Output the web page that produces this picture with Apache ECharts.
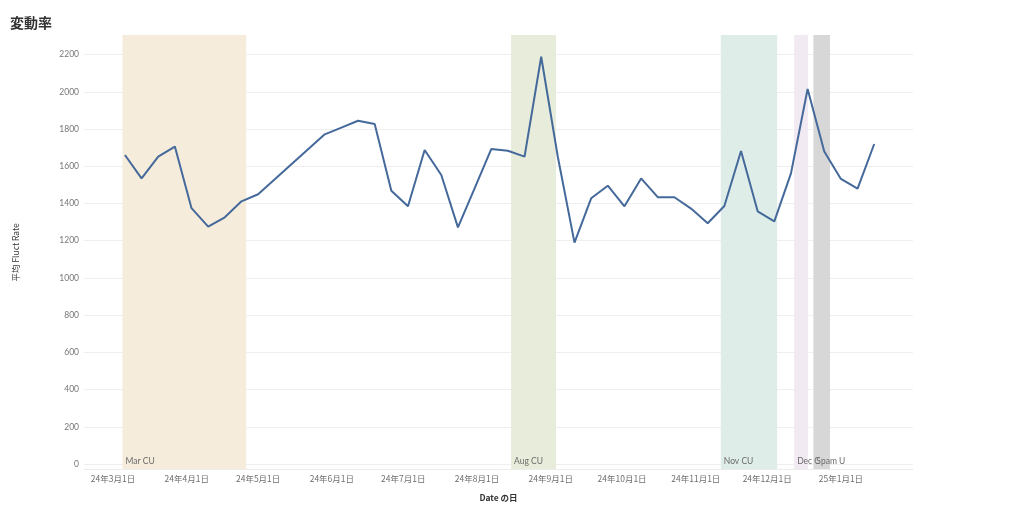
<!DOCTYPE html>
<html><head><meta charset="utf-8">
<script src="https://cdn.jsdelivr.net/npm/echarts@6/dist/echarts.min.js"></script>
<style>html,body{margin:0;padding:0;background:#fff}#c{width:1024px;height:512px}</style>
</head><body><div id="c"></div>
<script>
// ---- data ----
const firstWeek = '2024-03-06';
const fluctRate = [1661,1535,1652,1706,1375,1276,1326,1412,1450,1530,1611,1692,1772,1808,1845,1827,
  1469,1385,1688,1553,1272,1482,1693,1684,1652,2189,1650,1190,1428,1496,1385,1535,1434,1434,1373,1294,
  1387,1682,1358,1304,1562,2016,1680,1532,1480,1720];
const bandNames = ['Mar CU','Aug CU','Nov CU','Dec CU','Spam U'];
const bandStart = ['2024-03-05','2024-08-15T08:00','2024-11-11T12:00','2024-12-12T08:00','2024-12-20T10:00'];
const bandEnd   = ['2024-04-26','2024-09-03T05:00','2024-12-05T05:00','2024-12-18T03:00','2024-12-27T10:00'];
const bandColors = ['#f5ecdc','#e7edda','#deede8','#f1eaf2','#d7d7d7'];
const yTicks = [0,200,400,600,800,1000,1200,1400,1600,1800,2000,2200];

// ---- build ----
const DAY = 86400000;
const t0 = new Date(firstWeek + 'T00:00:00').getTime();
const lineData = fluctRate.map((v,i)=>[t0 + i*7*DAY, v]);
const mar1 = new Date('2024-03-01T00:00:00').getTime();
const xMin = mar1 - 12.2*DAY;
const xMax = mar1 + 336.3*DAY;
const ts = s => new Date(s.length>10 ? s : s+'T00:00:00').getTime();
// label is clipped where the next band's label begins (as in the original)
const gridW = 1024 - 84 - 111;
const pxPerMs = gridW / (xMax - xMin);

const fontJP = '"Noto Sans CJK JP", "Lato", sans-serif';
const bandSeries = bandNames.map((n,i)=>{
  const next = i+1 < bandStart.length ? ts(bandStart[i+1]) : null;
  const room = next ? (next - ts(bandStart[i]))*pxPerMs + 6 : null;
  const lbl = {show:true, position:'insideBottomLeft', distance:3, color:'#6b6b6b', formatter:n,
      fontSize:8.5, fontFamily:'Lato, "Open Sans", sans-serif'};
  if (room !== null && room < 30) { lbl.width = room; lbl.overflow = 'truncate'; lbl.ellipsis = ''; }
  return {
    type:'line', xAxisIndex:1, yAxisIndex:1, z:1+i, silent:true, clip:false,
    data:[[ts(bandStart[i]), 0]], symbol:'none', lineStyle:{opacity:0},
    markArea:{ silent:true, itemStyle:{color:bandColors[i]}, label:lbl,
      data:[[{name:n, xAxis:ts(bandStart[i])},{xAxis:ts(bandEnd[i])}]] }
  };
});

const chart = echarts.init(document.getElementById('c'), null, {renderer:'canvas'});
chart.setOption({
  animation:false,
  backgroundColor:'#fff',
  title:{ text:'変動率', left:5, top:11, textStyle:{fontSize:14, fontWeight:'bold', color:'#333', fontFamily:fontJP}},
  grid:[
    {left:84, right:111, top:54.7, bottom:48},
    {left:84, right:111, top:35, bottom:43}
  ],
  xAxis:[
    {type:'time', gridIndex:0, min:xMin, max:xMax, show:false},
    {type:'time', gridIndex:1, min:xMin, max:xMax,
      minInterval:28*DAY, maxInterval:31*DAY,
      axisLine:{show:true, lineStyle:{color:'#ececec'}},
      axisTick:{show:false}, splitLine:{show:false},
      axisLabel:{show:true, showMinLabel:false, showMaxLabel:false, color:'#6f6f6f', fontSize:8.5, margin:6,
        fontFamily:fontJP,
        formatter:function(v){const d=new Date(v); return String(d.getFullYear()%100)+'年'+(d.getMonth()+1)+'月'+d.getDate()+'日';}},
      name:'Date の日', nameLocation:'middle', nameGap:25,
      nameTextStyle:{color:'#333', fontSize:8.5, fontWeight:'bold', fontFamily:fontJP}
    }
  ],
  yAxis:[
    {type:'value', gridIndex:0, min:yTicks[0], max:yTicks[yTicks.length-1], interval:200,
      axisLine:{show:false}, axisTick:{show:false},
      splitLine:{show:true, lineStyle:{color:'#efefef', width:1}},
      axisLabel:{color:'#777', fontSize:8.5, margin:5, fontFamily:'Lato, "Open Sans", sans-serif',
        formatter:function(v){return String(v);}},
      name:'平均 Fluct Rate', nameLocation:'middle', nameGap:64, nameRotate:90,
      nameTextStyle:{color:'#333', fontSize:8.5, fontFamily:fontJP, padding:[0,0,0,14]}
    },
    {type:'value', gridIndex:1, min:0, max:1, show:false}
  ],
  series:[
    ...bandSeries,
    {type:'line', xAxisIndex:0, yAxisIndex:0, data:lineData, z:10, symbol:'none',
      lineStyle:{color:'#44699a', width:2}, itemStyle:{color:'#44699a'}}
  ]
});
</script></body></html>
